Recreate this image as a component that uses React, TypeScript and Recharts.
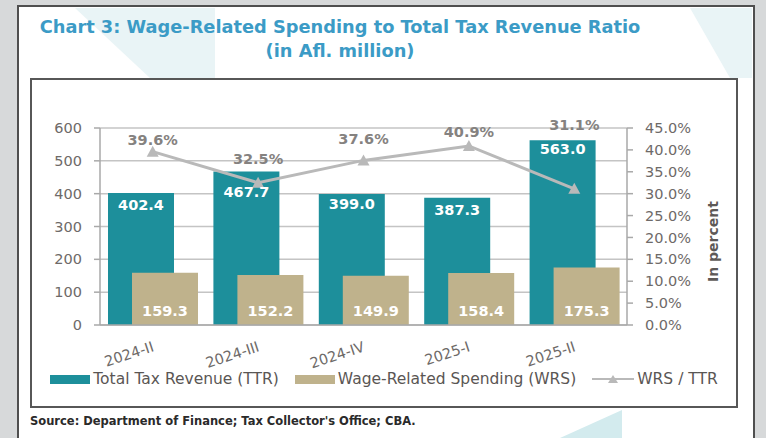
import {
	Bar,
	CartesianGrid,
	ComposedChart,
	LabelList,
	Legend,
	Line,
	XAxis,
	YAxis,
} from "recharts"

const periods = ["2024-II", "2024-III", "2024-IV", "2025-I", "2025-II"]
const totalTaxRevenue = [402.4, 467.7, 399.0, 387.3, 563.0]
const wageRelatedSpending = [159.3, 152.2, 149.9, 158.4, 175.3]
const wrsToTtr = [39.6, 32.5, 37.6, 40.9, 31.1]
const leftTicks = [0, 100, 200, 300, 400, 500, 600]
const rightTicks = [0, 5, 10, 15, 20, 25, 30, 35, 40, 45]

const data = periods.map((period, i) => ({
	period,
	ttr: totalTaxRevenue[i],
	wrs: wageRelatedSpending[i],
	ratio: wrsToTtr[i],
}))

const FONT = "'DejaVu Sans', sans-serif"
const TEAL = "#1d8f9b"
const TAN = "#bfb28c"
const LINE_GRAY = "#b9b9b9"
const AXIS_TEXT = "#6e6a68"
const GRID = "#c4c4c4"

// legend order as in the original
const legendOrder = ["ttr", "wrs", "ratio"]

// how far above the marker each ratio label sits (Excel nudged them around the bars)
const ratioLabelLift = [12, 24, 21, 14, 64]
// how far below the bar top the TTR value sits
const ttrLabelDrop = [7, 15, 5, 7, 4]

const Triangle = (props: any) => {
	const { cx, cy } = props
	if (cx == null || cy == null) return null
	return (
		<polygon
			points={`${cx - 6},${cy + 5} ${cx + 6},${cy + 5} ${cx},${cy - 6}`}
			fill={LINE_GRAY}
		/>
	)
}

const RatioLabel = (props: any) => {
	const { x, y, value, index } = props
	return (
		<text
			x={x}
			y={y - (ratioLabelLift[index] ?? 12)}
			dy="0.35em"
			textAnchor="middle"
			fill="#858280"
			fontSize={14.5}
			fontWeight={700}
			fontFamily={FONT}
		>
			{Number(value).toFixed(1)}%
		</text>
	)
}

const TtrLabel = (props: any) => {
	const { x, y, width, value, index } = props
	return (
		<text
			x={x + width / 2}
			y={y + (ttrLabelDrop[index] ?? 6)}
			dy="0.71em"
			textAnchor="middle"
			fill="#ffffff"
			fontSize={14.5}
			fontWeight={700}
			fontFamily={FONT}
		>
			{Number(value).toFixed(1)}
		</text>
	)
}

const PeriodTick = (props: any) => {
	const { x, y, payload } = props
	return (
		<g transform={`translate(${x + 2},${y + 26})`}>
			<text
				textAnchor="end"
				transform="rotate(-18)"
				fill={AXIS_TEXT}
				fontSize={14.5}
				fontFamily={FONT}
			>
				{payload.value}
			</text>
		</g>
	)
}

const PercentAxisLabel = (props: any) => {
	const { viewBox } = props
	const x = viewBox.x + 86
	const y = viewBox.y + viewBox.height / 2 + 15
	return (
		<text
			x={x}
			y={y}
			transform={`rotate(-90, ${x}, ${y})`}
			textAnchor="middle"
			dy="0.35em"
			fill="#5d5957"
			fontSize={14}
			fontWeight={600}
			fontFamily={FONT}
		>
			In percent
		</text>
	)
}

const LegendContent = (props: any) => {
	const payload = [...(props.payload ?? [])].sort(
		(a: any, b: any) =>
			legendOrder.indexOf(a.dataKey) - legendOrder.indexOf(b.dataKey),
	)
	return (
		<div
			style={{
				display: "flex",
				justifyContent: "center",
				alignItems: "center",
				gap: 16,
				fontFamily: FONT,
				fontSize: 15.5,
				color: "#5a5654",
				whiteSpace: "nowrap",
			}}
		>
			{payload.map((entry: any) => (
				<div
					key={entry.value}
					style={{ display: "flex", alignItems: "center", gap: 3 }}
				>
					{entry.type === "line" ? (
						<svg width={42} height={12}>
							<line x1={0} y1={6} x2={42} y2={6} stroke={LINE_GRAY} strokeWidth={2} />
							<polygon points="16,10 26,10 21,2" fill={LINE_GRAY} />
						</svg>
					) : (
						<div style={{ width: 40, height: 9, background: entry.color }} />
					)}
					<span>{entry.value}</span>
				</div>
			))}
		</div>
	)
}

const App = () => {
	return (
		<div
			style={{
				position: "absolute",
				left: 0,
				top: 0,
				width: 766,
				height: 438,
				overflow: "hidden",
				background: "#d7d9da",
				fontFamily: FONT,
			}}
		>
			{/* white page panel */}
			<div
				style={{
					position: "absolute",
					left: 17,
					top: 5,
					width: 738,
					height: 445,
					background: "#ffffff",
					border: "2px solid #4f4f4f",
					boxSizing: "border-box",
				}}
			/>
			{/* faint watermark shapes */}
			<svg
				width={766}
				height={438}
				style={{ position: "absolute", left: 0, top: 0 }}
			>
				<polygon points="75,8 215,8 215,78 150,78" fill="#e9f4f6" />
				<polygon points="690,8 752,8 752,78 730,78" fill="#e9f4f6" />
				<polygon points="560,438 622,410 622,438" fill="#d3ebee" />
			</svg>
			<div
				style={{
					position: "absolute",
					left: 0,
					width: 680,
					top: 15,
					textAlign: "center",
					color: "#3b9bc6",
					fontWeight: 700,
					fontSize: 17.8,
					lineHeight: "24px",
				}}
			>
				Chart 3: Wage-Related Spending to Total Tax Revenue Ratio
				<br />
				(in Afl. million)
			</div>
			<div
				style={{
					position: "absolute",
					left: 30,
					top: 78,
					width: 708,
					height: 330,
					background: "#ffffff",
					border: "2px solid #575757",
					boxSizing: "border-box",
				}}
			>
				<ComposedChart
					width={704}
					height={326}
					data={data}
					margin={{ top: 48, right: 0, bottom: 12, left: 0 }}
					barSize={66}
					barGap={-42}
					style={{ fontFamily: FONT }}
				>
					<CartesianGrid
						yAxisId="left"
						vertical={false}
						stroke={GRID}
						strokeWidth={1.5}
					/>
					<XAxis
						dataKey="period"
						height={45}
						tickLine={false}
						tickSize={0}
						tickMargin={0}
						stroke="#a9a9a9"
						strokeWidth={1.5}
						tick={<PeriodTick />}
						interval={0}
					/>
					<YAxis
						yAxisId="left"
						orientation="left"
						width={68}
						domain={[0, 600]}
						ticks={leftTicks}
						interval={0}
						tickSize={6}
						tickMargin={12}
						stroke="#a9a9a9"
						strokeWidth={1.5}
						tick={{ fill: AXIS_TEXT, fontSize: 14.5, fontFamily: FONT }}
					/>
					<YAxis
						yAxisId="right"
						orientation="right"
						width={109}
						domain={[0, 45]}
						ticks={rightTicks}
						interval={0}
						tickSize={6}
						tickMargin={12}
						stroke="#a9a9a9"
						strokeWidth={1.5}
						tick={{ fill: AXIS_TEXT, fontSize: 14.5, fontFamily: FONT, textAnchor: "start" }}
						tickFormatter={(v: number) => `${v.toFixed(1)}%`}
						label={<PercentAxisLabel />}
					/>
					<Legend
						verticalAlign="bottom"
						height={24}
						content={<LegendContent />}
					/>
					<Bar
						yAxisId="left"
						dataKey="ttr"
						name="Total Tax Revenue (TTR)"
						fill={TEAL}
						legendType="rect"
						isAnimationActive={false}
					>
						<LabelList dataKey="ttr" content={<TtrLabel />} />
					</Bar>
					<Bar
						yAxisId="left"
						dataKey="wrs"
						name="Wage-Related Spending (WRS)"
						fill={TAN}
						legendType="rect"
						isAnimationActive={false}
					>
						<LabelList
							dataKey="wrs"
							position="insideBottom"
							offset={9}
							fill="#ffffff"
							fontSize={14.5}
							fontWeight={700}
							fontFamily={FONT}
							formatter={(v: any) => Number(v).toFixed(1)}
						/>
					</Bar>
					<Line
						yAxisId="right"
						dataKey="ratio"
						name="WRS / TTR"
						stroke={LINE_GRAY}
						strokeWidth={3}
						dot={<Triangle />}
						activeDot={false}
						legendType="line"
						label={<RatioLabel />}
						isAnimationActive={false}
					/>
				</ComposedChart>
			</div>
			<div
				style={{
					position: "absolute",
					left: 30,
					top: 414,
					fontSize: 11.5,
					fontWeight: 700,
					color: "#2a2a2a",
				}}
			>
				Source: Department of Finance; Tax Collector's Office; CBA.
			</div>
		</div>
	)
}

export default App
